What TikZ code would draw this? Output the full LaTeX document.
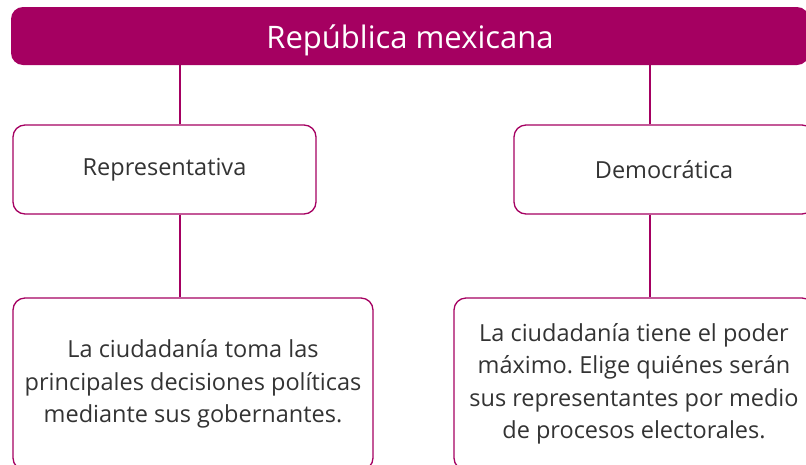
\documentclass[tikz,border=0pt]{standalone}
\usepackage{fontspec}
\setmainfont{Open Sans}
\usetikzlibrary{positioning}
\definecolor{magenta}{HTML}{A50061}
\definecolor{textgray}{HTML}{333333}
\frenchspacing

\begin{document}
\begin{tikzpicture}[x=1pt,y=1pt,
                    conn/.style={draw=magenta,line width=1.3pt},
                    title/.style={rectangle,rounded corners=12pt,fill=magenta,text=white,
                                  minimum width=798pt,minimum height=58pt,
                                  text height=26pt,text depth=2pt,
                                  font=\fontsize{31}{36}\selectfont},
                    kind/.style={rectangle,rounded corners=12pt,draw=magenta,line width=1.3pt,
                                 fill=white,text=textgray,minimum height=89pt,
                                 font=\fontsize{23.5}{28}\selectfont},
                    desc/.style={rectangle,rounded corners=12pt,draw=magenta,line width=1.3pt,
                                 fill=white,text=textgray,minimum width=360pt,minimum height=172pt,
                                 align=center,font=\fontsize{23.5}{32.5}\selectfont}]

  	\useasboundingbox (0,0) rectangle (806,-464);

  	\node[title] (rep) at (410,-36)            {República mexicana};
  	\node[kind,minimum width=303pt] (repre) at (164.5,-169.5)  {Representativa};
	\node[kind,minimum width=300pt] (demo)  at (664,-169.5)    {Democrática};
	\node[desc] (repredesc) at (193,-384)
		{La ciudadanía toma las\\principales decisiones políticas\\mediante sus gobernantes.};
	\node[desc] (demodesc)  at (634,-384)
		{La ciudadanía tiene el poder\\máximo. Elige quiénes serán\\sus representantes por medio\\de procesos electorales.};

  	\path[conn] ([xshift=15.5pt]repre.north) edge ([xshift=15.5pt]repre.north |- rep.south);
	\path[conn] ([xshift=15.5pt]repre.south) edge ([xshift=15.5pt]repre.south |- repredesc.north);
	\path[conn] ([xshift=-14pt]demo.north)   edge ([xshift=-14pt]demo.north |- rep.south);
	\path[conn] ([xshift=-14pt]demo.south)   edge ([xshift=-14pt]demo.south |- demodesc.north);

\end{tikzpicture}
\end{document}
